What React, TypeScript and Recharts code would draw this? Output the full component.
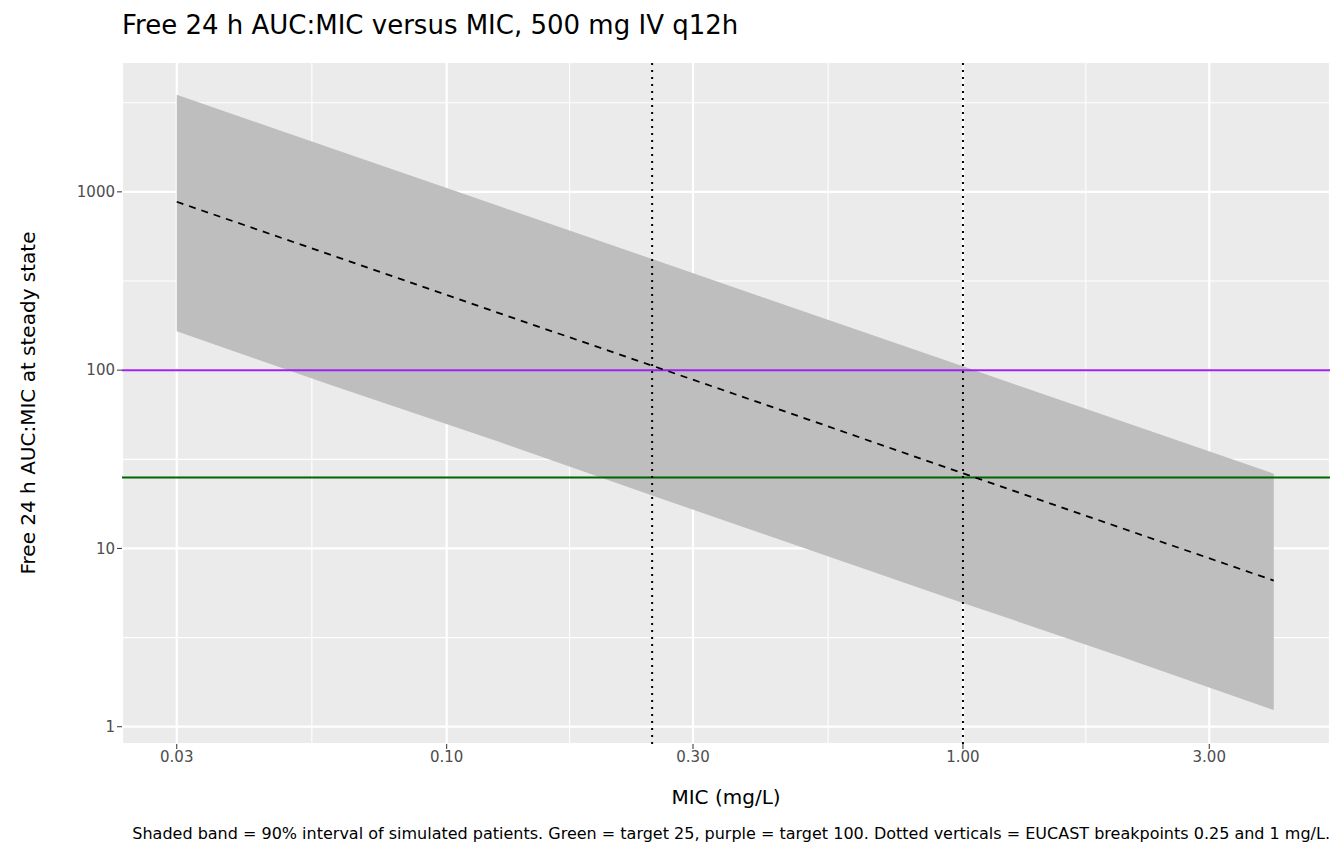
import {
  Area,
  CartesianGrid,
  ComposedChart,
  Line,
  ReferenceLine,
  XAxis,
  YAxis,
} from "recharts";

const mic = [0.03, 0.06, 0.125, 0.25, 0.5, 1, 2, 4];
const median = [880, 440, 211, 106, 53, 26.4, 13.2, 6.6];
const upper = [3500, 1750, 840, 420, 210, 105, 52.5, 26.25];
const lower = [165, 82, 40, 19.8, 9.9, 4.95, 2.5, 1.24];

const xTicks = [0.03, 0.1, 0.3, 1, 3];
const xMinor = [0.0548, 0.173, 0.548, 1.73];
const yTicks = [1, 10, 100, 1000];
const yMinor = [3.16, 31.6, 316, 3162];
const breakpoints = [0.25, 1];
const targets = [
  { y: 100, color: "#A020F0" },
  { y: 25, color: "#006400" },
];

const xDomain = [0.0235, 5.14];
const yDomain = [0.8, 5350];

const rows = mic.map((m, i) => ({ mic: m, median: median[i], band: [lower[i], upper[i]] }));

const font = "'DejaVu Sans', sans-serif";

export default function App() {
  return (
    <div style={{ position: "absolute", left: 0, top: 0, width: 1344, height: 864, fontFamily: font, background: "#fff", overflow: "hidden" }}>
      <ComposedChart width={1344} height={864} data={rows} margin={{ top: 62, right: 14, left: 62, bottom: 80 }}>
        <CartesianGrid fill="#EBEBEB" stroke="#fff" strokeWidth={1.1} xAxisId="minor" yAxisId="minor" />
        <CartesianGrid stroke="#fff" strokeWidth={2.2} />
        <XAxis xAxisId="minor" dataKey="mic" type="number" scale="log" domain={xDomain} ticks={xMinor} allowDataOverflow hide />
        <YAxis yAxisId="minor" type="number" scale="log" domain={yDomain} ticks={yMinor} allowDataOverflow hide />
        <XAxis
          dataKey="mic"
          type="number"
          scale="log"
          domain={xDomain}
          ticks={xTicks}
          allowDataOverflow
          tickFormatter={(v: number) => v.toFixed(2)}
          tick={{ fill: "#4D4D4D", fontSize: 15, fontFamily: font }}
          tickLine={{ stroke: "#333" }}
          tickSize={5}
          axisLine={false}
          height={40}
        />
        <YAxis
          type="number"
          scale="log"
          domain={yDomain}
          ticks={yTicks}
          allowDataOverflow
          tick={{ fill: "#4D4D4D", fontSize: 15, fontFamily: font }}
          tickLine={{ stroke: "#333" }}
          tickSize={5}
          axisLine={false}
          width={60}
        />
        <Area dataKey="band" fill="#BEBEBE" fillOpacity={1} stroke="none" isAnimationActive={false} />
        {targets.map((t) => (
          <ReferenceLine key={t.y} y={t.y} stroke={t.color} strokeWidth={2} />
        ))}
        {breakpoints.map((b) => (
          <ReferenceLine key={b} x={b} stroke="#000" strokeWidth={2} strokeDasharray="2 5" />
        ))}
        <Line dataKey="median" stroke="#000" strokeWidth={1.8} strokeDasharray="7 6" dot={false} isAnimationActive={false} />
      </ComposedChart>
      <div style={{ position: "absolute", left: 122, top: 10, fontSize: 26, color: "#000" }}>
        Free 24 h AUC:MIC versus MIC, 500 mg IV q12h
      </div>
      <div style={{ position: "absolute", left: 28, top: 403, transform: "translate(-50%, -50%) rotate(-90deg)", fontSize: 20, whiteSpace: "nowrap" }}>
        Free 24 h AUC:MIC at steady state
      </div>
      <div style={{ position: "absolute", left: 726, top: 785, transform: "translateX(-50%)", fontSize: 20, whiteSpace: "nowrap" }}>
        MIC (mg/L)
      </div>
      <div style={{ position: "absolute", right: 14, top: 824, fontSize: 16, whiteSpace: "nowrap" }}>
        Shaded band = 90% interval of simulated patients. Green = target 25, purple = target 100. Dotted verticals = EUCAST breakpoints 0.25 and 1 mg/L.
      </div>
    </div>
  );
}
